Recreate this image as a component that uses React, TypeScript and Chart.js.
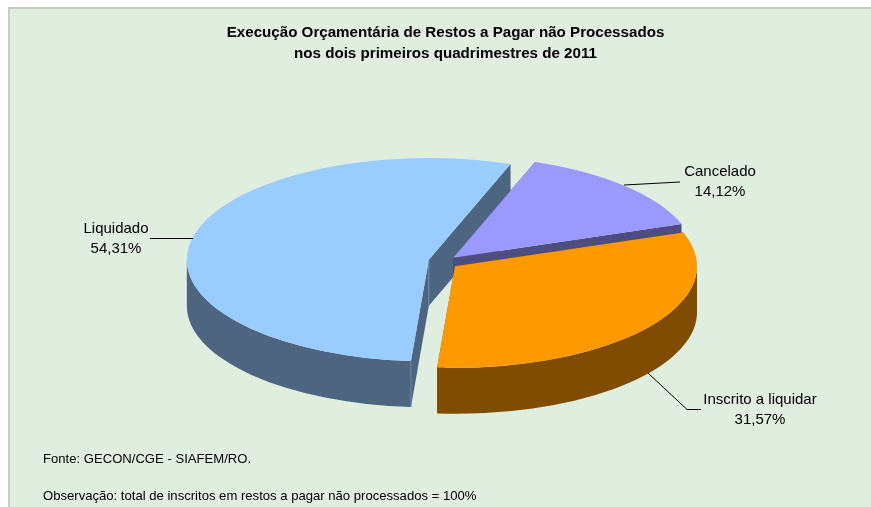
import React, { useEffect, useRef } from "react";
import { Chart, registerables } from "chart.js";

Chart.register(...registerables);

const categories = ["Cancelado", "Inscrito a liquidar", "Liquidado"];
const percentValues = [14.12, 31.57, 54.31];
const percentLabels = ["14,12%", "31,57%", "54,31%"];
const sliceColors = ["#9999FF", "#FF9900", "#99CCFF"];
const wallColors = ["#4D4D80", "#804D00", "#4D6580"];
const titleLines = [
  "Execução Orçamentária de Restos a Pagar não Processados",
  "nos dois primeiros quadrimestres de 2011",
];
const noteLines = [
  "Fonte: GECON/CGE - SIAFEM/RO.",
  "Observação: total de inscritos em restos a pagar não processados = 100%",
];

const TILT = 0.42;
const DEPTH = 46;
const EXPLODE = 14.5;
const DRAW_ORDER = [2, 0, 1];
const NUDGE = [[0, 1], [0.5, 1.5], [0, 0]];
const FONT = '"Liberation Sans", Arial, sans-serif';

const labelLayout = [
  { x: 720, y1: 172, y2: 192, line: [[624, 185], [680, 182]] },
  { x: 760, y1: 400, y2: 420, line: [[648, 373], [687, 409.5], [701, 409.5]] },
  { x: 116, y1: 229, y2: 249, line: [[150, 238.5], [193, 238.5]] },
];

const pie3d = {
  id: "pie3d",
  beforeDraw(chart: any) {
    const { ctx, width, height } = chart;
    ctx.save();
    ctx.fillStyle = "#FFFFFF";
    ctx.fillRect(0, 0, width, height);
    ctx.fillStyle = "#C2D0C2";
    ctx.fillRect(8, 7, width - 8, height - 7);
    ctx.fillStyle = "#E0EEE0";
    ctx.fillRect(10, 9, width - 10, height - 9);
    ctx.restore();
  },
  beforeDatasetsDraw(chart: any) {
    const { ctx } = chart;
    const arcs = chart.getDatasetMeta(0).data;
    DRAW_ORDER.forEach((i) => {
      const arc = arcs[i];
      const mid = (arc.startAngle + arc.endAngle) / 2;
      const ax = arc.x + Math.cos(mid) * EXPLODE + NUDGE[i][0];
      const ay = arc.y + Math.sin(mid) * EXPLODE * TILT + NUDGE[i][1];
      const rx = arc.outerRadius;
      const ry = arc.outerRadius * TILT;
      const pt = (a: number) => [ax + Math.cos(a) * rx, ay + Math.sin(a) * ry];
      const [sx, sy] = pt(arc.startAngle);
      const [ex, ey] = pt(arc.endAngle);

      ctx.save();
      ctx.fillStyle = wallColors[i];
      // the two cut faces
      [[sx, sy], [ex, ey]].forEach(([px, py]) => {
        ctx.beginPath();
        ctx.moveTo(ax, ay);
        ctx.lineTo(px, py);
        ctx.lineTo(px, py + DEPTH);
        ctx.lineTo(ax, ay + DEPTH);
        ctx.closePath();
        ctx.fill();
      });
      // outer wall: only the part that faces the viewer
      const lo = Math.max(arc.startAngle, 0);
      const hi = Math.min(arc.endAngle, Math.PI);
      if (hi > lo) {
        ctx.beginPath();
        ctx.ellipse(ax, ay, rx, ry, 0, lo, hi);
        ctx.ellipse(ax, ay + DEPTH, rx, ry, 0, hi, lo, true);
        ctx.closePath();
        ctx.fill();
      }
      // pale edges of the largest slice
      if (i === 2) {
        ctx.strokeStyle = "#7488A0";
        ctx.lineWidth = 1;
        ctx.beginPath();
        ctx.moveTo(ax, ay);
        ctx.lineTo(ax, ay + DEPTH);
        ctx.moveTo(sx, sy);
        ctx.lineTo(sx, sy + DEPTH);
        ctx.stroke();
      }
      ctx.restore();

      // top face: the library's own arc element
      ctx.save();
      ctx.translate(ax, ay);
      ctx.scale(1, TILT);
      ctx.translate(-arc.x, -arc.y);
      arc.draw(ctx);
      ctx.restore();
    });
    return false;
  },
  afterDraw(chart: any) {
    const { ctx } = chart;
    ctx.save();
    ctx.textBaseline = "middle";
    ctx.fillStyle = "#000000";
    ctx.textAlign = "center";
    ctx.font = `bold 15.15px ${FONT}`;
    titleLines.forEach((t, i) => ctx.fillText(t, 445.5, 32.5 + i * 21));

    ctx.font = `15px ${FONT}`;
    categories.forEach((c, i) => {
      const l = labelLayout[i];
      ctx.fillText(c, l.x, l.y1);
      ctx.fillText(percentLabels[i], l.x, l.y2);
      ctx.strokeStyle = "#000000";
      ctx.lineWidth = 1;
      ctx.beginPath();
      l.line.forEach(([x, y], j) => (j ? ctx.lineTo(x, y) : ctx.moveTo(x, y)));
      ctx.stroke();
    });

    ctx.textAlign = "left";
    ctx.font = `13.1px ${FONT}`;
    noteLines.forEach((t, i) => ctx.fillText(t, 43, 459.5 + i * 37));
    ctx.restore();
  },
};

export default function App() {
  const ref = useRef<HTMLCanvasElement>(null);
  useEffect(() => {
    const chart = new Chart(ref.current as HTMLCanvasElement, {
      type: "pie",
      data: {
        labels: categories,
        datasets: [
          {
            data: percentValues,
            backgroundColor: sliceColors,
            borderWidth: 0,
          },
        ],
      },
      options: {
        responsive: false,
        animation: false,
        rotation: 19.75,
        layout: { padding: { left: 201, right: 186, top: 19, bottom: 4 } },
        plugins: {
          legend: { display: false },
          title: { display: false },
          tooltip: { enabled: false },
        },
      },
      plugins: [pie3d],
    } as any);
    return () => chart.destroy();
  }, []);
  return (
    <div style={{ position: "fixed", left: 0, top: 0, width: 871, height: 507 }}>
      <canvas ref={ref} width={871} height={507} style={{ display: "block" }} />
    </div>
  );
}
